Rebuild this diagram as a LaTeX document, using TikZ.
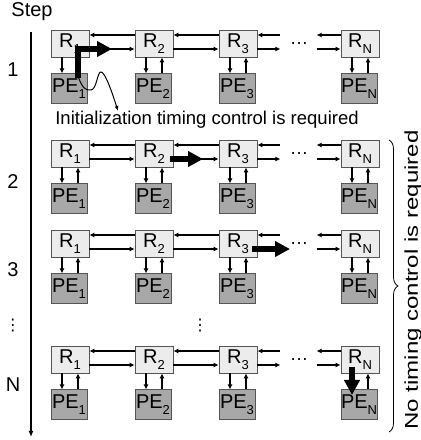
\documentclass[tikz,border=0pt]{standalone}
\usepackage{fontspec}
\setmainfont{Liberation Sans}
\newfontfamily\symfont{DejaVu Sans}
\usepackage{graphicx}
\usetikzlibrary{positioning,arrows.meta,decorations.pathreplacing}
\definecolor{routcol}{RGB}{236,236,236}
\definecolor{pecol}{RGB}{168,168,168}
\definecolor{edgecol}{RGB}{85,85,85}
\newcommand{\idx}[1]{\raisebox{-0.3em}{\fontsize{13}{13}\selectfont #1}}

\begin{document}
\begin{tikzpicture}[x=1pt, y=1pt,
  rbox/.style={rectangle, draw=edgecol, fill=routcol, line width=0.8pt,
               minimum width=38pt, minimum height=27pt, inner sep=0pt,
               font=\fontsize{20}{20}\selectfont},
  pebox/.style={rectangle, draw=edgecol, fill=pecol, line width=0.8pt,
                minimum width=36pt, minimum height=30pt, inner sep=0pt,
                font=\fontsize{20}{20}\selectfont},
  ln/.style={-{Latex[length=5pt,width=5pt]}, line width=1.5pt},
  big/.style={-{Triangle[length=15pt,width=15pt]}, line width=5.5pt},
  lbl/.style={font=\fontsize{20}{20}\selectfont},
  note/.style={font=\fontsize{18.5}{18.5}\selectfont},
  vdot/.style={font=\symfont\fontsize{16}{16}\selectfont},
]
\useasboundingbox (0,0) rectangle (421,440);

% routers and processing elements
\foreach \row/\yy in {1/396.5,2/286.5,3/196.5,4/80.5}{
  \foreach \col/\xx/\lab in {1/70/1,2/154/2,3/238/3,4/360/N}{
    \node[rbox] (r\row\col) at (\xx,\yy) {R\idx{\lab}};
    \node[pebox, below=16pt of r\row\col.south west, anchor=north west] (pe\row\col) {PE\idx{\lab}};
  }
  \node[note] (hd\row) at (299,\yy) {\textellipsis};
}

% links between routers
\foreach \row in {1,2,3,4}{
  \draw[ln] ([yshift=8.5pt]r\row2.west) -- ([yshift=8.5pt]r\row1.east);
  \draw[ln] ([yshift=-5.5pt]r\row1.east) -- ([yshift=-5.5pt]r\row2.west);
  \draw[ln] ([yshift=8.5pt]r\row3.west) -- ([yshift=8.5pt]r\row2.east);
  \draw[ln] ([yshift=-5.5pt]r\row2.east) -- ([yshift=-5.5pt]r\row3.west);
  \coordinate (a\row) at ([xshift=23pt]r\row3.east);
  \coordinate (b\row) at ([xshift=-24pt]r\row4.west);
  \draw[ln] ([yshift=8.5pt]a\row) -- ([yshift=8.5pt]r\row3.east);
  \draw[ln] ([yshift=-5.5pt]r\row3.east) -- ([yshift=-5.5pt]a\row);
  \draw[ln] ([yshift=8.5pt]r\row4.west) -- ([yshift=8.5pt]b\row);
  \draw[ln] ([yshift=-5.5pt]b\row) -- ([yshift=-5.5pt]r\row4.west);
}

% router <-> PE
\foreach \row in {1,2,3,4}{
  \foreach \col in {1,2,3,4}{
    \ifnum\row\col=44\relax\else
      \draw[ln] ([xshift=-8pt]r\row\col.south) -- ([xshift=-8pt]r\row\col.south |- pe\row\col.north);
    \fi
    \ifnum\row\col=11\relax\else
      \draw[ln] ([xshift=8pt]r\row\col.south |- pe\row\col.north) -- ([xshift=8pt]r\row\col.south);
    \fi
  }
}

% data movement in each step
\coordinate (k1) at (78,362);
\coordinate (t1) at (112,391);
\coordinate (k2) at ([xshift=-3pt,yshift=-5.5pt]r22.east);
\coordinate (t2) at (203,281);
\coordinate (k3) at ([xshift=-5pt,yshift=-5.5pt]r33.east);
\coordinate (t3) at (290,191);
\coordinate (k4) at (352,73);
\coordinate (t4) at (352,45);
\draw[big] (k1) |- (t1);
\draw[big] (k2) -- (t2);
\draw[big] (k3) -- (t3);
\draw[big] (k4) -- (t4);

% callout
\node[note] (init) at (207,320) {Initialization timing control is required};
\coordinate (w0) at (78,364);
\coordinate (w1) at (118,329);
\draw[-{Latex[length=5pt,width=4pt]}, line width=1pt]
  (w0) .. controls (82,352) and (86,349) .. (91,350)
  .. controls (97,351) and (97,368) .. (101,368)
  .. controls (105,368) and (112,348) .. (w1);

% step axis
\node[lbl] (step) at (32,428) {Step};
\coordinate (ax0) at (31,408);
\coordinate (ax1) at (31,3);
\draw[-{Latex[length=6pt,width=5pt]}, line width=1.5pt] (ax0) -- (ax1);
\foreach \n/\yy/\txt in {s1/370/1, s2/258/2, s3/170/3, s4/55/N}
  \node[lbl] (\n) at (13,\yy) {\txt};
\node[vdot] (sdots) at (13,114) {⋮};
\node[vdot] (cdots) at (200,114) {⋮};

% brace
\coordinate (br0) at (389,300);
\coordinate (br1) at (389,8);
\draw[decorate, decoration={brace, amplitude=9pt}, line width=0.8pt] (br0) -- (br1);
\node[note, rotate=90] (none) at (413,160) {\scalebox{1.3}[1]{No timing control is required}};

\end{tikzpicture}
\end{document}
